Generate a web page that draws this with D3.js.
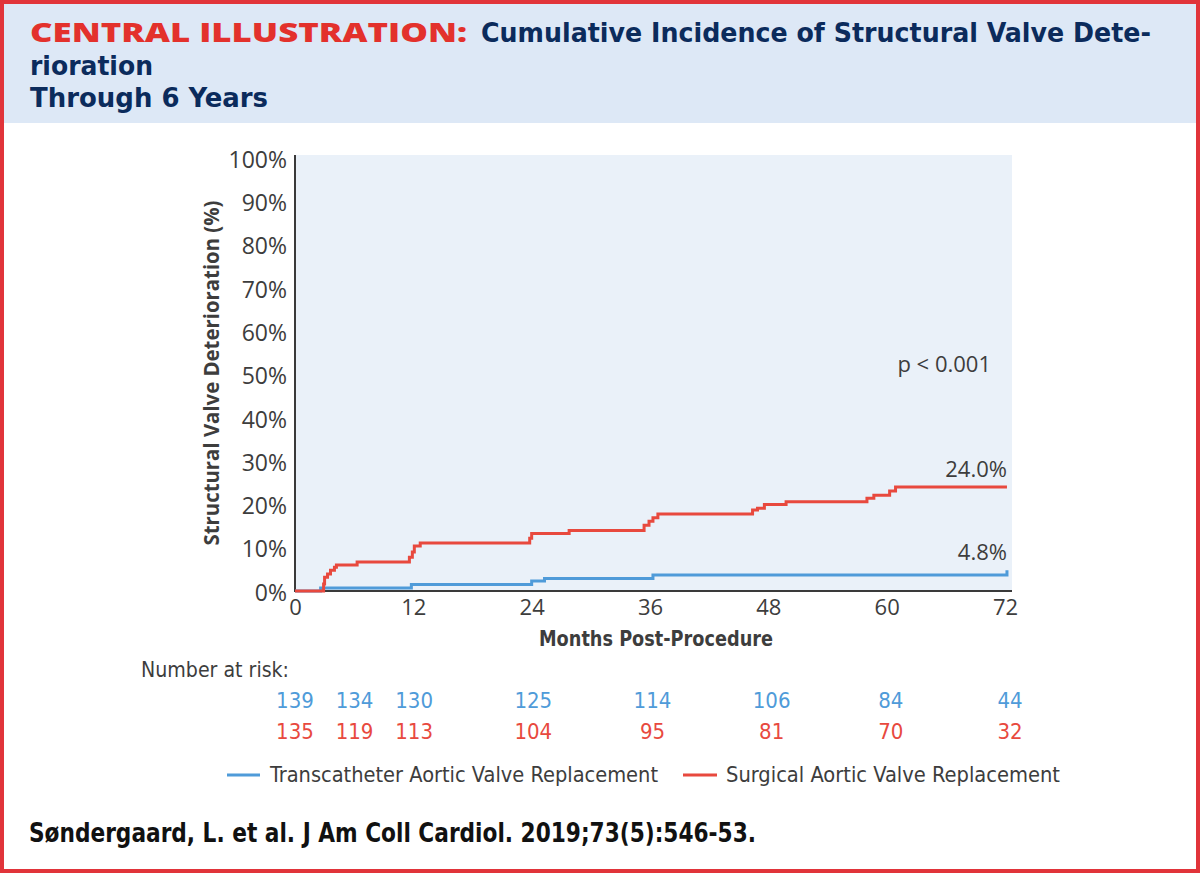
<!DOCTYPE html>
<html><head><meta charset="utf-8">
<script src="https://cdn.jsdelivr.net/npm/d3@7/dist/d3.min.js"></script>
<style>
html,body{margin:0;padding:0;background:#fff;}
svg{display:block;}
</style></head>
<body>
<svg id="chart" width="1200" height="873"></svg>
<script>
// ---- data ----
const xTicks = [0, 12, 24, 36, 48, 60, 72];
const yTicks = [0, 10, 20, 30, 40, 50, 60, 70, 80, 90, 100];
const savrMonths = [0, 2.9, 3.0, 3.3, 3.6, 4.0, 4.2, 6.3, 11.6, 11.9, 12.1, 12.7, 23.8, 24.0, 27.8, 35.4, 35.9, 36.3, 36.8, 46.4, 46.9, 47.6, 49.8, 58.0, 58.7, 60.3, 60.9, 72.2];
const savrPct    = [0, 1.6, 3.2, 3.9, 4.8, 5.5, 6.0, 6.7, 7.8, 9.0, 10.4, 11.1, 12.2, 13.3, 14.0, 15.2, 16.1, 16.9, 17.8, 18.7, 19.1, 20.0, 20.6, 21.4, 22.1, 23.1, 24.0, 24.0];
const tavrMonths = [0, 2.6, 11.8, 24.0, 25.3, 36.3, 72.2, 72.2];
const tavrPct    = [0, 0.7, 1.5, 2.3, 2.9, 3.7, 3.7, 4.8];
const riskMonths = [0, 6, 12, 24, 36, 48, 60, 72];
const tavrRisk = [139, 134, 130, 125, 114, 106, 84, 44];
const savrRisk = [135, 119, 113, 104, 95, 81, 70, 32];
const seriesNames = ["Transcatheter Aortic Valve Replacement", "Surgical Aortic Valve Replacement"];
const finalLabels = ["4.8%", "24.0%"];
const pText = "p < 0.001";

// ---- style ----
const C = {red:"#e8493e", blue:"#4f9bd9", navy:"#0b2b5c", titleRed:"#e3312c", gray:"#3d3d3d",
           headerBg:"#dde8f6", plotBg:"#eaf1f9", border:"#e1343a"};
const FN = "'Liberation Sans Narrow','DejaVu Sans Condensed','Open Sans',sans-serif";
const FO = "'Open Sans','Noto Sans',sans-serif";

const svg = d3.select("#chart");

// border + header
svg.append("rect").attr("x",0).attr("y",0).attr("width",1200).attr("height",873).attr("fill","#fff");
svg.append("rect").attr("x",4).attr("y",4).attr("width",1192).attr("height",119).attr("fill",C.headerBg);
svg.append("rect").attr("x",2).attr("y",2).attr("width",1196).attr("height",869)
  .attr("fill","none").attr("stroke",C.border).attr("stroke-width",4);

function fitText(sel, w){ sel.attr("textLength", w).attr("lengthAdjust","spacingAndGlyphs"); return sel; }

// title
fitText(svg.append("text").attr("x",30).attr("y",42).attr("font-family",FO).attr("font-weight",800)
  .attr("font-size",26).attr("fill",C.titleRed).text("CENTRAL ILLUSTRATION:"), 437);
fitText(svg.append("text").attr("x",481).attr("y",42).attr("font-family",FN).attr("font-weight",700)
  .attr("font-size",26).attr("fill",C.navy).text("Cumulative Incidence of Structural Valve Dete-"), 670);
fitText(svg.append("text").attr("x",30).attr("y",75).attr("font-family",FN).attr("font-weight",700)
  .attr("font-size",26).attr("fill",C.navy).text("rioration"), 123);
fitText(svg.append("text").attr("x",30).attr("y",107).attr("font-family",FN).attr("font-weight",700)
  .attr("font-size",26).attr("fill",C.navy).text("Through 6 Years"), 238);

// scales
const x = d3.scaleLinear().domain([0,72]).range([295,1005]);
const y = d3.scaleLinear().domain([0,100]).range([591,158]);
const xRisk = d3.scaleLinear().domain([0,72]).range([295,1010]);

// plot background
svg.append("rect").attr("x",295).attr("y",155).attr("width",1012-295).attr("height",591-155).attr("fill",C.plotBg);

// axes
const yAxis = svg.append("g").attr("transform","translate(295,0)")
  .call(d3.axisLeft(y).tickValues(yTicks).tickSize(0).tickPadding(8).tickFormat(d=>d+"%"));
yAxis.select(".domain").remove();
yAxis.selectAll("text").attr("font-family",FO).attr("font-size",23).attr("fill",C.gray).attr("dy","0.4em");
const xAxis = svg.append("g").attr("transform","translate(0,591)")
  .call(d3.axisBottom(x).tickValues(xTicks).tickSize(0).tickPadding(8));
xAxis.select(".domain").remove();
xAxis.selectAll("text").attr("font-family",FO).attr("font-size",22).attr("fill",C.gray);

svg.append("line").attr("x1",295).attr("x2",295).attr("y1",155).attr("y2",592).attr("stroke","#3a3a3a").attr("stroke-width",2);
svg.append("line").attr("x1",294).attr("x2",1012).attr("y1",591).attr("y2",591).attr("stroke","#3a3a3a").attr("stroke-width",2);

// axis titles
fitText(svg.append("text").attr("transform","translate(219,373) rotate(-90)").attr("text-anchor","middle")
  .attr("font-family",FO).attr("font-weight",700).attr("font-size",21).attr("fill",C.gray)
  .text("Structural Valve Deterioration (%)"), 345);
fitText(svg.append("text").attr("x",539).attr("y",646).attr("font-family",FN).attr("font-weight",700)
  .attr("font-size",21).attr("fill",C.gray).text("Months Post-Procedure"), 234);

// curves
const line = d3.line().x(d=>x(d[0])).y(d=>y(d[1])).curve(d3.curveStepAfter);
const tavrData = tavrMonths.map((m,i)=>[m,tavrPct[i]]);
const savrData = savrMonths.map((m,i)=>[m,savrPct[i]]);
svg.append("path").datum(tavrData).attr("d",line).attr("fill","none").attr("stroke",C.blue).attr("stroke-width",3);
svg.append("path").datum(savrData).attr("d",line).attr("fill","none").attr("stroke",C.red).attr("stroke-width",3);

// labels on plot
svg.append("text").attr("x",x(72.2)).attr("y",y(24)-10).attr("text-anchor","end").attr("font-family",FO)
  .attr("font-size",22).attr("fill",C.gray).text(finalLabels[1]);
svg.append("text").attr("x",x(72.2)).attr("y",y(4.8)-10).attr("text-anchor","end").attr("font-family",FO)
  .attr("font-size",22).attr("fill",C.gray).text(finalLabels[0]);
svg.append("text").attr("x",991).attr("y",y(50)-3).attr("text-anchor","end").attr("font-family",FO)
  .attr("font-size",22).attr("fill",C.gray).text(pText);

// number at risk
fitText(svg.append("text").attr("x",141).attr("y",677).attr("font-family",FN).attr("font-size",21)
  .attr("fill",C.gray).text("Number at risk:"), 148);
svg.append("g").selectAll("text").data(tavrRisk).join("text")
  .attr("x",(d,i)=>xRisk(riskMonths[i])).attr("y",708).attr("text-anchor","middle")
  .attr("font-family",FN).attr("font-size",22).attr("fill",C.blue).text(d=>d);
svg.append("g").selectAll("text").data(savrRisk).join("text")
  .attr("x",(d,i)=>xRisk(riskMonths[i])).attr("y",739).attr("text-anchor","middle")
  .attr("font-family",FN).attr("font-size",22).attr("fill",C.red).text(d=>d);

// legend
svg.append("line").attr("x1",227).attr("x2",260).attr("y1",775).attr("y2",775).attr("stroke",C.blue).attr("stroke-width",3);
fitText(svg.append("text").attr("x",270).attr("y",782).attr("font-family",FN).attr("font-size",21)
  .attr("fill",C.gray).text(seriesNames[0]), 388);
svg.append("line").attr("x1",683).attr("x2",717).attr("y1",775).attr("y2",775).attr("stroke",C.red).attr("stroke-width",3);
fitText(svg.append("text").attr("x",726).attr("y",782).attr("font-family",FN).attr("font-size",21)
  .attr("fill",C.gray).text(seriesNames[1]), 334);

// citation
fitText(svg.append("text").attr("x",29).attr("y",842).attr("font-family",FN).attr("font-weight",700)
  .attr("font-size",27).attr("fill","#111").text("Søndergaard, L. et al. J Am Coll Cardiol. 2019;73(5):546-53."), 727);
</script>
</body></html>
